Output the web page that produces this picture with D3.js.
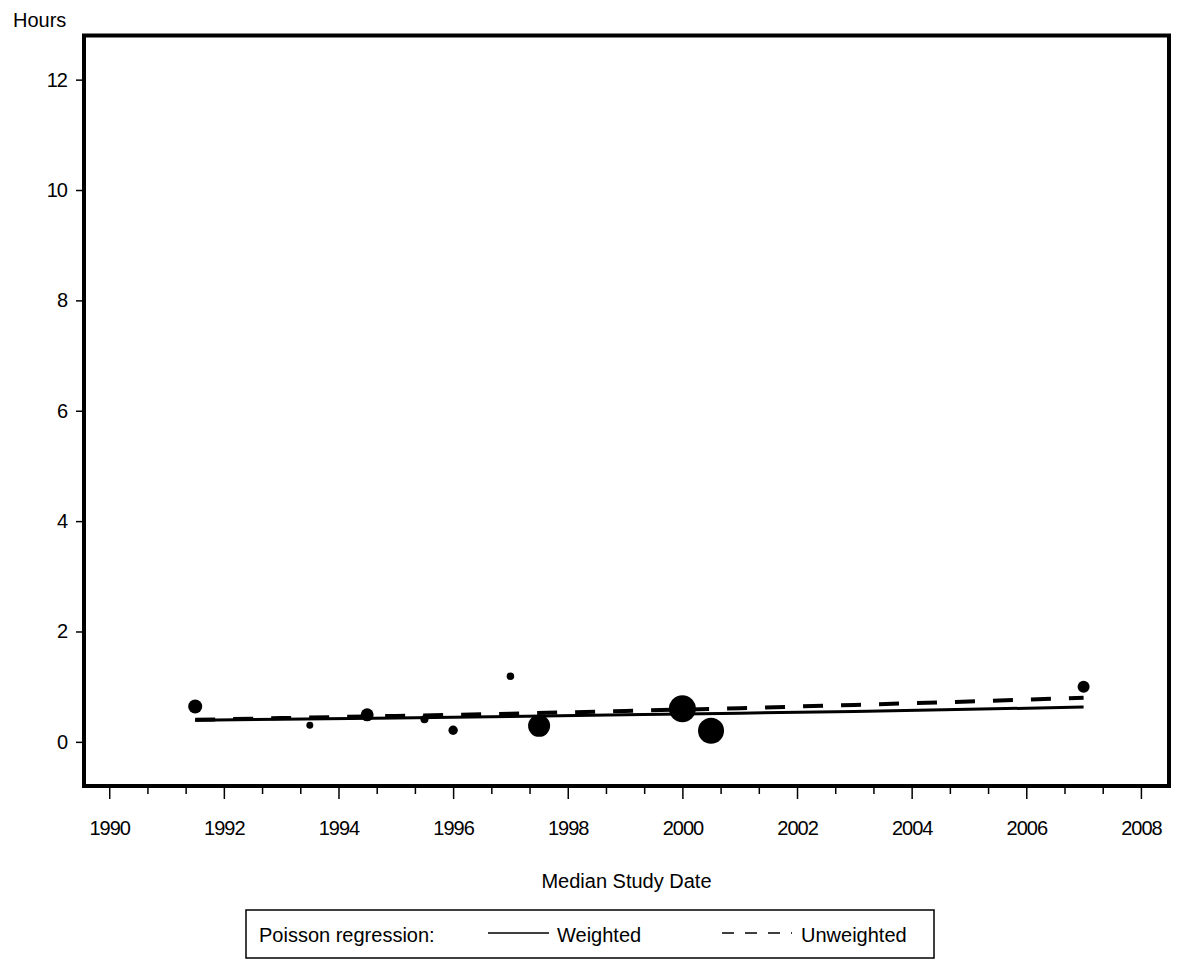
<!DOCTYPE html>
<html><head><meta charset="utf-8">
<script src="https://cdn.jsdelivr.net/npm/d3@7"></script>
<style>
body{margin:0;background:#fff}
svg text{font-family:"Liberation Sans",Arial,sans-serif;fill:#000}
</style>
</head><body>
<svg id="chart" width="1183" height="961"></svg>
<script>
// ---- data ----
const studyYears   = [1991.5, 1993.5, 1994.5, 1995.5, 1996, 1997, 1997.5, 2000, 2000.5, 2007];
const studyHours   = [0.64, 0.30, 0.49, 0.41, 0.21, 1.19, 0.29, 0.60, 0.20, 1.00];
const studyWeights = [49, 12, 42, 16, 22, 14, 121, 182, 169, 36];
const fitYears      = [1991.5, 1993, 1995, 1997, 1999, 2001, 2003, 2005, 2007];
const weightedFit   = [0.39, 0.41, 0.43, 0.46, 0.49, 0.52, 0.55, 0.59, 0.63];
const unweightedFit = [0.40, 0.43, 0.47, 0.51, 0.56, 0.61, 0.67, 0.73, 0.80];
const xTickValues = [1990, 1992, 1994, 1996, 1998, 2000, 2002, 2004, 2006, 2008];
const xTickLabels = ["1990","1992","1994","1996","1998","2000","2002","2004","2006","2008"];
const yTickValues = [0, 2, 4, 6, 8, 10, 12];
const yTickLabels = ["0","2","4","6","8","10","12"];
const yAxisTitle = "Hours";
const xAxisTitle = "Median Study Date";
const legendTitle = "Poisson regression:";
const seriesNames = ["Weighted", "Unweighted"];

// ---- layout ----
const frame = {left: 84, right: 1169, top: 35.5, bottom: 786};
const svg = d3.select("#chart");

const x = d3.scaleLinear().domain([1989.56, 2008.49]).range([frame.left, frame.right]);
const y = d3.scaleLinear().domain([-0.8, 12.8]).range([frame.bottom, frame.top]);
const r = d3.scaleSqrt().domain([0, d3.max(studyWeights)]).range([0, 13.5]);

// regression lines
const fitW = fitYears.map((d, i) => [d, weightedFit[i]]);
const fitU = fitYears.map((d, i) => [d, unweightedFit[i]]);
const line = d3.line().x(d => x(d[0])).y(d => y(d[1]));
svg.append("path").datum(fitW).attr("d", line)
  .attr("fill", "none").attr("stroke", "#000").attr("stroke-width", 3);
svg.append("path").datum(fitU).attr("d", line)
  .attr("fill", "none").attr("stroke", "#000").attr("stroke-width", 4)
  .attr("stroke-dasharray", "20,18");

// study points
const pts = studyYears.map((d, i) => ({yr: d, h: studyHours[i], w: studyWeights[i]}));
svg.append("g").selectAll("circle").data(pts).join("circle")
  .attr("cx", d => x(d.yr)).attr("cy", d => y(d.h)).attr("r", d => r(d.w))
  .attr("fill", "#000");

// frame
svg.append("rect")
  .attr("x", frame.left).attr("y", frame.top)
  .attr("width", frame.right - frame.left).attr("height", frame.bottom - frame.top)
  .attr("fill", "none").attr("stroke", "#000").attr("stroke-width", 4);

// x axis (major + minor ticks)
const xMinor = d3.range(0, 28).map(k => 1990 + k * 2 / 3)
  .filter(v => !(Math.abs(Math.round(v) - v) < 0.01 && Math.round(v) % 2 === 0))
  .filter(v => v < 2008.2);
const gxMinor = svg.append("g").attr("transform", `translate(0,${frame.bottom + 2})`)
  .call(d3.axisBottom(x).tickValues(xMinor).tickSize(6).tickFormat(""));
gxMinor.select(".domain").remove();
gxMinor.selectAll("line").attr("stroke-width", 1.5);

const gx = svg.append("g").attr("transform", `translate(0,${frame.bottom + 2})`)
  .call(d3.axisBottom(x).tickValues(xTickValues).tickSize(11).tickPadding(22)
    .tickFormat((d, i) => xTickLabels[i]));
gx.select(".domain").remove();
gx.selectAll("line").attr("stroke-width", 1.5);
gx.selectAll("text").style("font-family", '"Liberation Sans",Arial,sans-serif')
  .style("font-size", "20px").style("letter-spacing", "-1px");

// y axis
const gy = svg.append("g").attr("transform", `translate(${frame.left - 2},0)`)
  .call(d3.axisLeft(y).tickValues(yTickValues).tickSize(6).tickPadding(9)
    .tickFormat((d, i) => yTickLabels[i]));
gy.select(".domain").remove();
gy.selectAll("line").attr("stroke-width", 1.5);
gy.selectAll("text").style("font-family", '"Liberation Sans",Arial,sans-serif')
  .style("font-size", "20px").style("letter-spacing", "-1px");

// titles
svg.append("text").attr("x", 13).attr("y", 27).style("font-size", "20px").text(yAxisTitle);
svg.append("text").attr("x", (frame.left + frame.right) / 2).attr("y", 888)
  .attr("text-anchor", "middle").style("font-size", "20px").text(xAxisTitle);

// legend
const lg = svg.append("g");
lg.append("rect").attr("x", 246).attr("y", 910).attr("width", 688).attr("height", 48)
  .attr("fill", "none").attr("stroke", "#000").attr("stroke-width", 1.5);
lg.append("text").attr("x", 259).attr("y", 942).style("font-size", "20px").text(legendTitle);
lg.append("line").attr("x1", 488).attr("x2", 549).attr("y1", 933).attr("y2", 933)
  .attr("stroke", "#000").attr("stroke-width", 1.5);
lg.append("text").attr("x", 557).attr("y", 942).style("font-size", "20px").text(seriesNames[0]);
lg.append("line").attr("x1", 722).attr("x2", 792).attr("y1", 933).attr("y2", 933)
  .attr("stroke", "#000").attr("stroke-width", 1.5).attr("stroke-dasharray", "12,11");
lg.append("text").attr("x", 801).attr("y", 942).style("font-size", "20px").text(seriesNames[1]);
</script>
</body></html>
